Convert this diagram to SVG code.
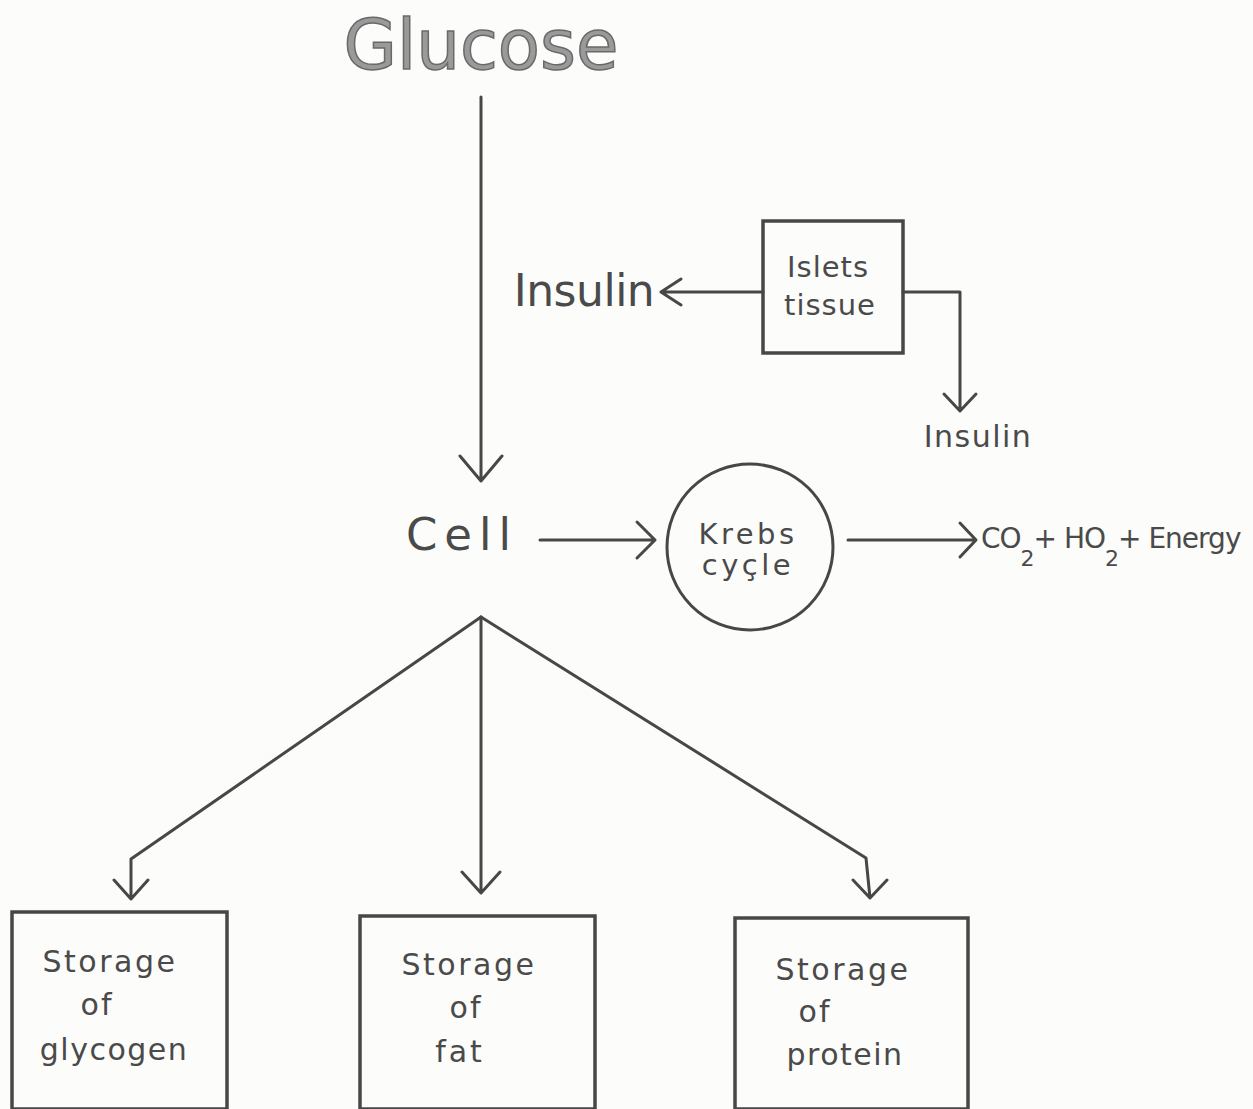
<svg xmlns="http://www.w3.org/2000/svg" width="1253" height="1109" viewBox="0 0 1253 1109">
<style>
.ln{fill:none;stroke:#474747;stroke-width:3;stroke-linecap:round;stroke-linejoin:round}
.bx{fill:none;stroke:#474747;stroke-width:3.5}
.t{font-family:"DejaVu Sans","Noto Sans",sans-serif;fill:#4a4a4a}
</style>
<rect width="1253" height="1109" fill="#fcfcfa"/>
<g id="glucose"><text class="t" x="481" y="69" font-size="69" text-anchor="middle" stroke="#6a6a6a" stroke-width="1.5" style="fill:#9a9a9a">Glucose</text></g>
<g id="insulin-left"><text class="t" x="584" y="306" font-size="44" text-anchor="middle" letter-spacing="-0.5">Insulin</text></g>
<g id="islets"><rect class="bx" x="763" y="221" width="140" height="132"/><text class="t" x="828" y="277" font-size="29" text-anchor="middle" letter-spacing="1">Islets</text><text class="t" x="830" y="315" font-size="29" text-anchor="middle" letter-spacing="1">tissue</text></g>
<g id="insulin-right"><text class="t" x="978" y="447" font-size="30" text-anchor="middle" letter-spacing="1.5">Insulin</text></g>
<g id="cell"><text class="t" x="462" y="550" font-size="45" text-anchor="middle" letter-spacing="7">Cell</text></g>
<g id="krebs"><circle class="ln" cx="750" cy="547" r="83"/><text class="t" x="748" y="544" font-size="29" text-anchor="middle" letter-spacing="3.5">Krebs</text><text class="t" x="748" y="575" font-size="29" text-anchor="middle" letter-spacing="3.5">cyçle</text></g>
<g id="products"><text class="t" x="981" y="548" font-size="28" letter-spacing="-1">CO<tspan dy="18" font-size="22">2</tspan><tspan dy="-18">+ HO</tspan><tspan dy="18" font-size="22">2</tspan><tspan dy="-18">+ Energy</tspan></text></g>
<g id="glycogen"><rect class="bx" x="12" y="912" width="215" height="197"/><text class="t" x="110" y="972" font-size="30" text-anchor="middle" letter-spacing="2.5">Storage</text><text class="t" x="97" y="1015" font-size="30" text-anchor="middle" letter-spacing="2">of</text><text class="t" x="114" y="1060" font-size="30" text-anchor="middle" letter-spacing="1.5">glycogen</text></g>
<g id="fat"><rect class="bx" x="360" y="916" width="235" height="193"/><text class="t" x="469" y="975" font-size="30" text-anchor="middle" letter-spacing="2.5">Storage</text><text class="t" x="466" y="1018" font-size="30" text-anchor="middle" letter-spacing="2">of</text><text class="t" x="460" y="1062" font-size="30" text-anchor="middle" letter-spacing="3">fat</text></g>
<g id="protein"><rect class="bx" x="735" y="918" width="233" height="191"/><text class="t" x="843" y="980" font-size="30" text-anchor="middle" letter-spacing="2.5">Storage</text><text class="t" x="815" y="1022" font-size="30" text-anchor="middle" letter-spacing="2">of</text><text class="t" x="845" y="1065" font-size="30" text-anchor="middle" letter-spacing="1.5">protein</text></g>
<g id="connectors">
<path class="ln" d="M481 97 V481 M460 456 L481 481 L502 456"/>
<path class="ln" d="M763 292 H661 M681 279 L661 292 L681 305"/>
<path class="ln" d="M903 292 H960 V411 M944 394 L960 411 L976 394"/>
<path class="ln" d="M540 540 H655 M637 522 L655 540 L637 558"/>
<path class="ln" d="M848 540 H976 M960 523 L976 540 L960 557"/>
<path class="ln" d="M481 617 L131 859 V899 M114 880 L131 899 L148 880"/>
<path class="ln" d="M481 617 V893 M462 872 L481 893 L500 872"/>
<path class="ln" d="M481 617 L866 858 L870 898 M853 880 L870 898 L887 880"/>
</g>
</svg>
